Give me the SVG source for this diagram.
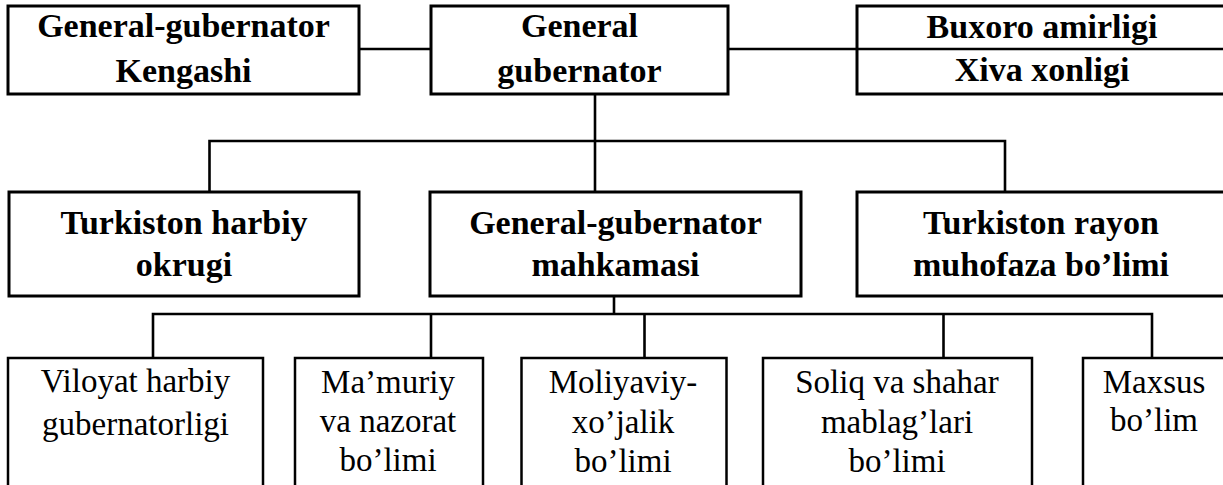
<svg xmlns="http://www.w3.org/2000/svg" width="1223" height="485" viewBox="0 0 1223 485">
<style>
.box{fill:#fff;stroke:#000;stroke-width:3}
.sbox{fill:#fff;stroke:#000;stroke-width:2.5}
.ln{fill:none;stroke:#000;stroke-width:2.6}
text{font-family:'Liberation Serif',Tinos,'Times New Roman','DejaVu Serif',serif;text-anchor:middle;fill:#000}
.b{font-weight:bold;font-size:34px}
.r{font-weight:normal;font-size:33px}
</style>
<rect width="1223" height="485" fill="#fff"/>
<g id="connectors">
<line class="ln" x1="359" y1="49" x2="431" y2="49"/>
<line class="ln" x1="728" y1="49" x2="857" y2="49"/>
<line class="ln" x1="595" y1="94" x2="595" y2="192"/>
<polyline class="ln" points="209.5,192 209.5,141 1005,141 1005,192"/>
<line class="ln" x1="614" y1="296" x2="614" y2="314"/>
<polyline class="ln" points="153,358 153,314 1152,314 1152,358"/>
<line class="ln" x1="431" y1="314" x2="431" y2="358"/>
<line class="ln" x1="644.5" y1="314" x2="644.5" y2="358"/>
<line class="ln" x1="943.5" y1="314" x2="943.5" y2="358"/>
</g>
<g id="kengashi">
<rect class="box" x="8" y="6" width="351" height="88"/>
<text class="b" x="183.5" y="37" font-family="Liberation Serif">General-gubernator</text>
<text class="b" x="183.5" y="82" font-family="Liberation Serif">Kengashi</text>
</g>
<g id="gubernator">
<rect class="box" x="431" y="6" width="297" height="88"/>
<text class="b" x="579.5" y="37" font-family="Liberation Serif">General</text>
<text class="b" x="579.5" y="82" font-family="Liberation Serif">gubernator</text>
</g>
<g id="xonliklar">
<rect class="box" x="857" y="6" width="372" height="88"/>
<line class="ln" x1="857" y1="49" x2="1229" y2="49"/>
<text class="b" x="1042" y="38" font-family="Liberation Serif">Buxoro amirligi</text>
<text class="b" x="1042" y="81" font-family="Liberation Serif">Xiva xonligi</text>
</g>
<g id="okrug">
<rect class="box" x="9" y="192" width="350" height="104"/>
<text class="b" x="184" y="234" font-family="Liberation Serif">Turkiston harbiy</text>
<text class="b" x="184" y="276" font-family="Liberation Serif">okrugi</text>
</g>
<g id="mahkama">
<rect class="box" x="430" y="192" width="371" height="104"/>
<text class="b" x="615.5" y="234" font-family="Liberation Serif">General-gubernator</text>
<text class="b" x="615.5" y="276" font-family="Liberation Serif">mahkamasi</text>
</g>
<g id="muhofaza">
<rect class="box" x="857" y="192" width="370" height="104"/>
<text class="b" x="1041" y="234" font-family="Liberation Serif">Turkiston rayon</text>
<text class="b" x="1041" y="276" font-family="Liberation Serif">muhofaza bo’limi</text>
</g>
<g id="viloyat">
<rect class="sbox" x="8" y="358" width="255" height="140"/>
<text class="r" x="135.5" y="392" font-family="Liberation Serif">Viloyat harbiy</text>
<text class="r" x="135.5" y="435" font-family="Liberation Serif">gubernatorligi</text>
</g>
<g id="mamuriy">
<rect class="sbox" x="295" y="358" width="188" height="140"/>
<text class="r" x="388" y="393" font-family="Liberation Serif">Ma’muriy</text>
<text class="r" x="388" y="432" font-family="Liberation Serif">va nazorat</text>
<text class="r" x="388" y="471" font-family="Liberation Serif">bo’limi</text>
</g>
<g id="moliya">
<rect class="sbox" x="521.5" y="358" width="205" height="140"/>
<text class="r" x="623" y="393" font-family="Liberation Serif">Moliyaviy-</text>
<text class="r" x="623" y="433" font-family="Liberation Serif">xo’jalik</text>
<text class="r" x="623" y="472" font-family="Liberation Serif">bo’limi</text>
</g>
<g id="soliq">
<rect class="sbox" x="763" y="358" width="269" height="140"/>
<text class="r" x="897" y="393" font-family="Liberation Serif">Soliq va shahar</text>
<text class="r" x="897" y="433" font-family="Liberation Serif">mablag’lari</text>
<text class="r" x="897" y="472" font-family="Liberation Serif">bo’limi</text>
</g>
<g id="maxsus">
<rect class="sbox" x="1083" y="358" width="145" height="140"/>
<text class="r" x="1154" y="393" font-family="Liberation Serif">Maxsus</text>
<text class="r" x="1154" y="431" font-family="Liberation Serif">bo’lim</text>
</g>
</svg>
